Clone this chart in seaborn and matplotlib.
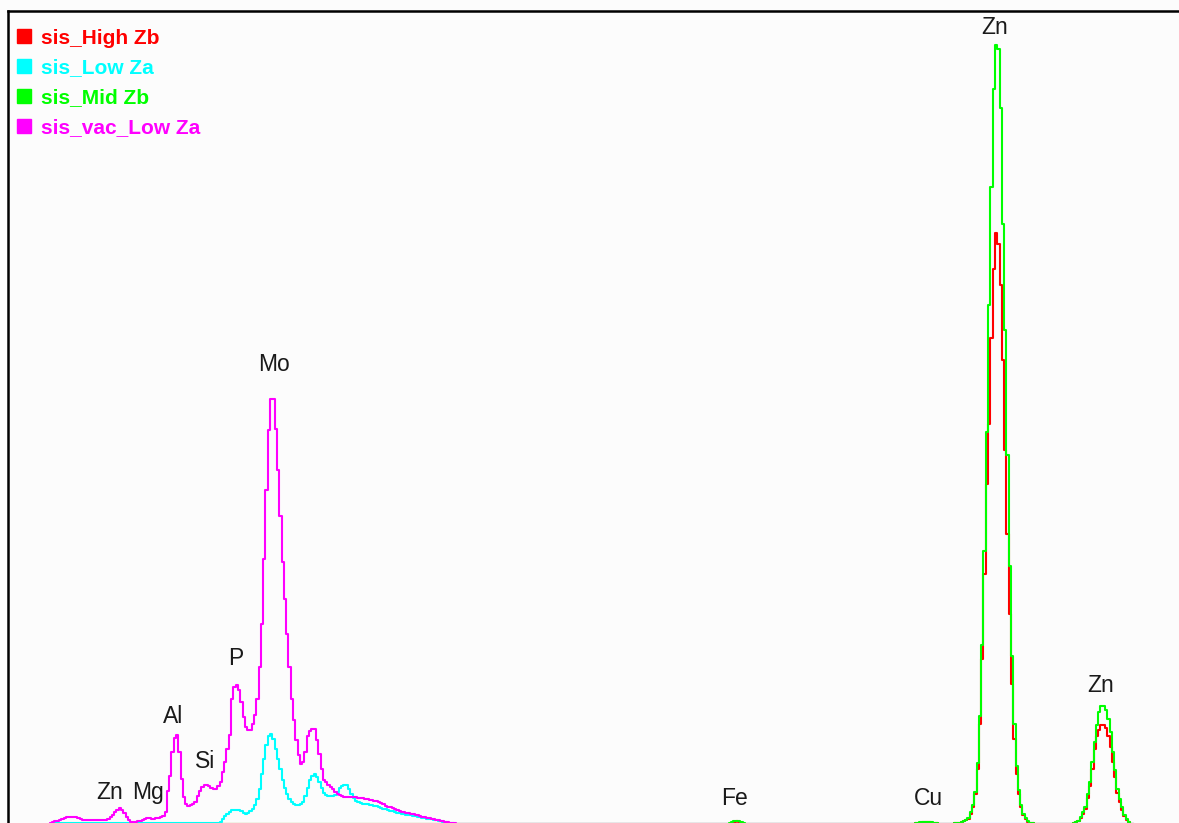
import numpy as np
import pandas as pd
import matplotlib
matplotlib.use('Agg')
import matplotlib.pyplot as plt
from matplotlib.lines import Line2D
import seaborn as sns

# Espectro EDS: contagens por canal (unidades arbitrarias)
CANAL_KEV = 0.02  # largura de cada canal

series_names = ['sis_High Zb', 'sis_Low Za', 'sis_Mid Zb', 'sis_vac_Low Za']
series_colors = ['#ff0000', '#00ffff', '#00ff00', '#ff00ff']

# regiao de baixa energia, canais 19..197
low_start = 19
vac_low_za = [
    0, 1, 2, 3, 3, 4, 5, 6, 7, 7,
    7, 7, 7, 6, 5, 4, 4, 4, 4, 4,
    4, 4, 4, 4, 4, 4, 5, 7, 9, 12,
    14, 16, 14, 11, 7, 4, 2, 2, 2, 3,
    3, 4, 5, 6, 6, 5, 5, 6, 6, 7,
    8, 12, 33, 48, 72, 86, 89, 72, 45, 27,
    20, 18, 19, 20, 22, 28, 33, 37, 39, 39,
    38, 36, 35, 35, 38, 42, 52, 62, 75, 89,
    125, 137, 139, 134, 122, 107, 97, 94, 94, 100,
    109, 125, 157, 200, 265, 334, 394, 425, 425, 395,
    354, 308, 262, 225, 190, 157, 125, 104, 84, 69,
    60, 62, 72, 88, 93, 95, 95, 84, 70, 55,
    44, 42, 39, 37, 35, 32, 30, 29, 28, 27,
    27, 27, 27, 27, 27, 26, 26, 26, 25, 25,
    24, 24, 23, 23, 22, 21, 20, 18, 17, 17,
    16, 15, 14, 13, 12, 12, 11, 11, 10, 10,
    9, 9, 8, 7, 7, 6, 6, 5, 5, 4,
    4, 3, 3, 2, 2, 1, 1, 1, 0,
]
low_za = [
    0, 0, 1, 1, 1, 1, 1, 1, 1, 1,
    1, 1, 1, 1, 1, 1, 1, 1, 1, 1,
    1, 1, 1, 1, 1, 1, 1, 1, 1, 1,
    1, 1, 1, 1, 1, 1, 1, 1, 1, 1,
    1, 1, 1, 1, 1, 1, 1, 1, 1, 1,
    1, 1, 1, 1, 1, 1, 1, 1, 1, 1,
    1, 1, 1, 1, 1, 1, 1, 1, 1, 1,
    1, 1, 1, 1, 1, 2, 5, 8, 10, 12,
    14, 14, 14, 14, 13, 11, 10, 11, 13, 15,
    19, 25, 35, 50, 65, 79, 88, 90, 85, 75,
    65, 55, 44, 36, 30, 25, 22, 20, 19, 19,
    20, 22, 28, 36, 44, 48, 50, 47, 42, 36,
    31, 29, 28, 28, 28, 29, 32, 36, 38, 39,
    39, 35, 30, 26, 23, 22, 21, 20, 20, 20,
    19, 19, 18, 18, 17, 16, 15, 15, 14, 13,
    13, 12, 11, 11, 10, 10, 9, 9, 9, 8,
    8, 7, 7, 6, 6, 5, 5, 5, 4, 4,
    3, 3, 2, 2, 1, 1, 1, 0, 0,
]

# pico do Fe, canais 316..322
fe_start = 316
high_zb_fe = [0, 1, 2, 3, 2, 1, 0]
mid_zb_fe = [1, 2, 3, 3, 3, 2, 1]

# regiao Cu / Zn, canais 395..492
zn_start = 395
high_zb_zn = [
    0, 0, 1, 1, 1, 2, 2, 2, 2, 1,
    1, 1, 0, 0, 0, 0, 0, 0, 0, 1,
    1, 1, 2, 3, 4, 5, 10, 17, 30, 55,
    100, 165, 250, 340, 400, 486, 555, 591, 580, 539,
    464, 374, 290, 210, 140, 85, 50, 30, 17, 9,
    5, 2, 1, 1, 0, 0, 0, 0, 0, 0,
    0, 0, 0, 0, 0, 0, 0, 0, 0, 0,
    0, 1, 2, 3, 6, 10, 15, 26, 38, 55,
    75, 88, 94, 99, 99, 96, 88, 77, 62, 47,
    31, 22, 14, 8, 4, 2, 0, 0,
]
mid_zb_zn = [
    0, 0, 1, 1, 2, 2, 2, 2, 2, 2,
    1, 1, 0, 0, 0, 0, 0, 0, 0, 1,
    1, 1, 2, 3, 4, 6, 12, 19, 32, 61,
    108, 179, 273, 392, 519, 637, 735, 779, 775, 716,
    600, 494, 369, 258, 168, 100, 58, 34, 19, 10,
    6, 3, 1, 1, 0, 0, 0, 0, 0, 0,
    0, 0, 0, 0, 0, 0, 0, 0, 0, 0,
    0, 1, 2, 3, 7, 12, 17, 30, 42, 62,
    82, 99, 112, 118, 118, 114, 105, 92, 72, 54,
    35, 25, 17, 9, 5, 2, 0, 0,
]

# identificacao dos picos (energia em keV, altura do texto)
label_names = ['Zn', 'Mg', 'Al', 'Si', 'P', 'Mo', 'Fe', 'Cu', 'Zn', 'Zn']
label_kev = [0.915, 1.246, 1.464, 1.743, 2.013, 2.344, 6.363, 8.046, 8.630, 9.555]
label_h = [31, 31, 107, 62, 165, 459, 25, 25, 796, 138]

# montando os espectros completos
canais = np.arange(19, 493)


def monta(segmentos):
    cont = np.zeros(len(canais))
    for ini, vals in segmentos:
        cont[ini - canais[0]: ini - canais[0] + len(vals)] = vals
    return cont


espectros = {
    'sis_High Zb': monta([(fe_start, high_zb_fe), (zn_start, high_zb_zn)]),
    'sis_Low Za': monta([(low_start, low_za)]),
    'sis_Mid Zb': monta([(fe_start, mid_zb_fe), (zn_start, mid_zb_zn)]),
    'sis_vac_Low Za': monta([(low_start, vac_low_za)]),
}

df = pd.concat([
    pd.DataFrame({'keV': canais * CANAL_KEV, 'contagens': cont, 'serie': nome})
    for nome, cont in espectros.items()
], ignore_index=True)

sns.set_style('white')
plt.rcParams['font.family'] = ['Liberation Sans', 'DejaVu Sans']

fig = plt.figure(figsize=(11.79, 8.23), dpi=100)
fig.patch.set_facecolor('#fcfcfc')
ax = fig.add_axes([8 / 1179, 0, 1 - 8 / 1179, 812 / 823])
ax.set_facecolor('#fcfcfc')

sns.lineplot(data=df, x='keV', y='contagens', hue='serie', hue_order=series_names,
             palette=series_colors, drawstyle='steps-mid', estimator=None,
             linewidth=1.5, legend=False, ax=ax)

for nome, e, h in zip(label_names, label_kev, label_h):
    ax.text(e, h, nome, ha='center', va='center', fontsize=16.5, color='#1a1a1a')

ax.set_xlim(0.025, 10.235)
ax.set_ylim(0.5, 812.5)
ax.set_xticks([])
ax.set_yticks([])
ax.set_xlabel('')
ax.set_ylabel('')
for lado in ['right', 'bottom']:
    ax.spines[lado].set_visible(False)
for lado in ['top', 'left']:
    ax.spines[lado].set_color('black')
    ax.spines[lado].set_linewidth(1.8)

handles = [Line2D([0], [0], marker='s', linestyle='none', markersize=9.4,
                  markerfacecolor=c, markeredgecolor=c) for c in series_colors]
ax.legend(handles, series_names, loc='upper left', bbox_to_anchor=(15 / 1179, 1 - 28.5 / 823),
          bbox_transform=fig.transFigure, frameon=False, borderpad=0, borderaxespad=0,
          prop={'weight': 'bold', 'size': 15}, labelcolor=series_colors,
          handlelength=0.9, handletextpad=0.34, labelspacing=0.52)

plt.savefig('out.png', dpi=100, facecolor=fig.get_facecolor())
